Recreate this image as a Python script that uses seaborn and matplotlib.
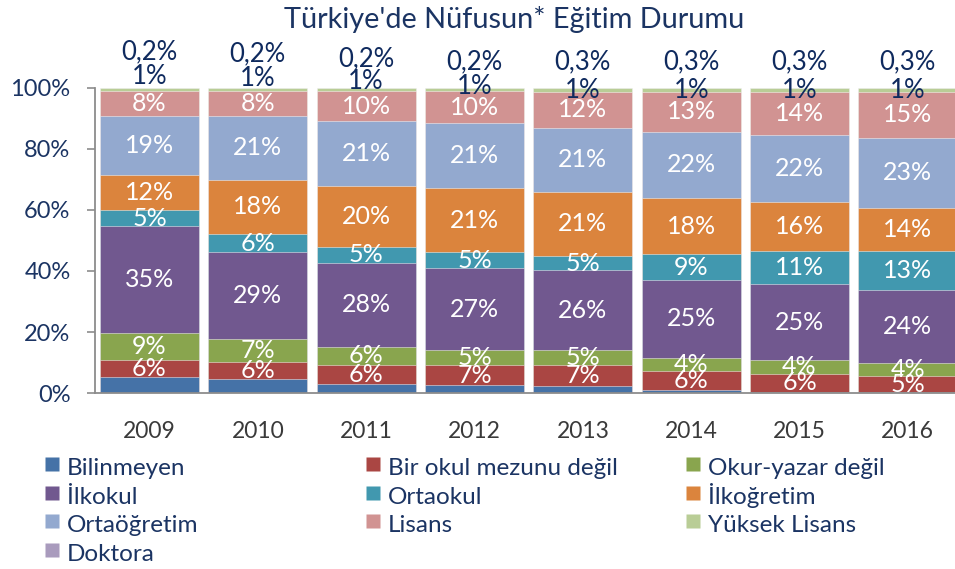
import matplotlib
matplotlib.use("Agg")
import matplotlib.pyplot as plt
import seaborn as sns
import pandas as pd
import numpy as np
from matplotlib.lines import Line2D

# ---------------- data ----------------
years = ["2009", "2010", "2011", "2012", "2013", "2014", "2015", "2016"]
categories = ["Bilinmeyen", "Bir okul mezunu değil", "Okur-yazar değil", "İlkokul",
              "Ortaokul", "İlkoğretim", "Ortaöğretim", "Lisans", "Yüksek Lisans", "Doktora"]
bilinmeyen    = [5.2, 4.7, 3.1, 2.6, 2.5, 1.1, 0.4, 0.3]
bir_okul      = [5.8, 5.5, 6.2, 6.6, 6.8, 6.2, 6.0, 5.3]
okur_yazar    = [8.8, 7.4, 5.8, 4.8, 4.8, 4.4, 4.4, 4.3]
ilkokul       = [34.9, 28.6, 27.6, 27.0, 26.1, 25.3, 25.0, 24.0]
ortaokul      = [5.1, 5.9, 5.2, 5.1, 4.8, 8.6, 10.6, 12.6]
ilkogretim    = [11.6, 17.8, 19.8, 20.9, 20.9, 18.2, 16.2, 14.2]
ortaogretim   = [19.4, 20.8, 21.2, 21.4, 21.0, 21.8, 22.0, 22.9]
lisans        = [8.0, 8.1, 9.9, 10.4, 11.6, 12.9, 13.9, 14.9]
yuksek_lisans = [1.0, 1.0, 1.0, 1.0, 1.2, 1.2, 1.2, 1.2]
doktora       = [0.2, 0.2, 0.2, 0.2, 0.3, 0.3, 0.3, 0.3]
yticks = [0, 20, 40, 60, 80, 100]
title = "Türkiye'de Nüfusun* Eğitim Durumu"

series = [bilinmeyen, bir_okul, okur_yazar, ilkokul, ortaokul, ilkogretim,
          ortaogretim, lisans, yuksek_lisans, doktora]

# ---------------- style ----------------
colors = ["#4572A7", "#AA4643", "#89A54E", "#71588F", "#4198AF", "#DB843D",
          "#93A9CF", "#D19392", "#B9CD96", "#A99BBD"]
navy = "#1B3463"
label_navy = "#0F2A5E"
white_label_idx = [1, 2, 3, 4, 5, 6, 7]
# vertical lift (points) of the outside labels, per bar
yl_lift = [7.6, 6.8, 4.0, 0.4, -2.5, -2.5, -2.5, -2.5]
dk_lift = [25.6, 24.1, 20.5, 18.4, 18.4, 18.4, 18.4, 18.4]

sns.set_theme(style="white")
plt.rcParams['font.family'] = ['Lato', 'DejaVu Sans']

fig = plt.figure(figsize=(9.55, 5.69), dpi=100)
ax = fig.add_axes([0.0998, 0.3088, 0.9002, 0.5374])

# long table + cumulative tops
rows = []
for ci, (cat, vals) in enumerate(zip(categories, series)):
    for yi, y in enumerate(years):
        rows.append({"year": y, "cat": cat, "ci": ci, "value": vals[yi]})
df = pd.DataFrame(rows)
df["top"] = df.groupby("year")["value"].cumsum()
df["bottom"] = df["top"] - df["value"]

bar_w = 0.914
for ci in reversed(range(len(categories))):
    sub = df[df["ci"] == ci]
    sns.barplot(data=sub, x="year", y="top", order=years, color=colors[ci],
                saturation=1, width=bar_w, edgecolor=(1, 1, 1, 0.55),
                linewidth=0.6, ax=ax, errorbar=None)

# labels inside
for ci in white_label_idx:
    sub = df[df["ci"] == ci]
    for yi, y in enumerate(years):
        r = sub[sub["year"] == y].iloc[0]
        ax.text(yi, r["bottom"] + r["value"] / 2, f"{round(r['value'])}%",
                ha="center", va="center", color="white", fontsize=18)

# labels above the bars
for yi, y in enumerate(years):
    top = df[df["year"] == y]["top"].max()
    ax.annotate(f"{round(yuksek_lisans[yi])}%", xy=(yi, top), xytext=(0, yl_lift[yi]),
                textcoords="offset points", ha="center", va="center",
                color=label_navy, fontsize=18.5, annotation_clip=False)
    ax.annotate(f"{doktora[yi]:.1f}%".replace(".", ","), xy=(yi, top),
                xytext=(0, dk_lift[yi]), textcoords="offset points",
                ha="center", va="center", color=label_navy, fontsize=18.5,
                annotation_clip=False)

ax.set_xlim(-0.5, 7.435)
ax.set_ylim(0, 100)
ax.set_yticks(yticks)
ax.set_yticklabels([f"{t}%" for t in yticks])
ax.set_xlabel("")
ax.set_ylabel("")
ax.grid(False)
for s in ["top", "right"]:
    ax.spines[s].set_visible(False)
for s in ["left", "bottom"]:
    ax.spines[s].set_color("#8C8C8C")
    ax.spines[s].set_linewidth(1.3)
ax.tick_params(axis="y", left=True, length=5.8, width=1.2, color="#8C8C8C",
               pad=12, labelsize=17, labelcolor=navy)
ax.tick_params(axis="x", length=0, pad=20, labelsize=16.5, labelcolor="#3A3A3A")

fig.text(0.538, 0.966, title, ha="center", va="center", fontsize=20.8, color=navy)

# legend in three columns
handles = [Line2D([], [], marker="s", linestyle="none", markersize=10,
                  markerfacecolor=c, markeredgecolor="none") for c in colors]
col_items = [[0, 3, 6, 9], [1, 4, 7], [2, 5, 8]]
col_x = [45, 366, 686]
for items, x in zip(col_items, col_x):
    leg = fig.legend([handles[i] for i in items], [categories[i] for i in items],
                     loc="upper left", bbox_to_anchor=(x / 955, 1 - 452.6 / 569),
                     frameon=False, fontsize=17.5, borderpad=0, borderaxespad=0,
                     handlelength=0.6, handleheight=1.44, handletextpad=0.3,
                     labelspacing=0.0)
    for t in leg.get_texts():
        t.set_color(navy)

fig.savefig("out.png", dpi=100)
